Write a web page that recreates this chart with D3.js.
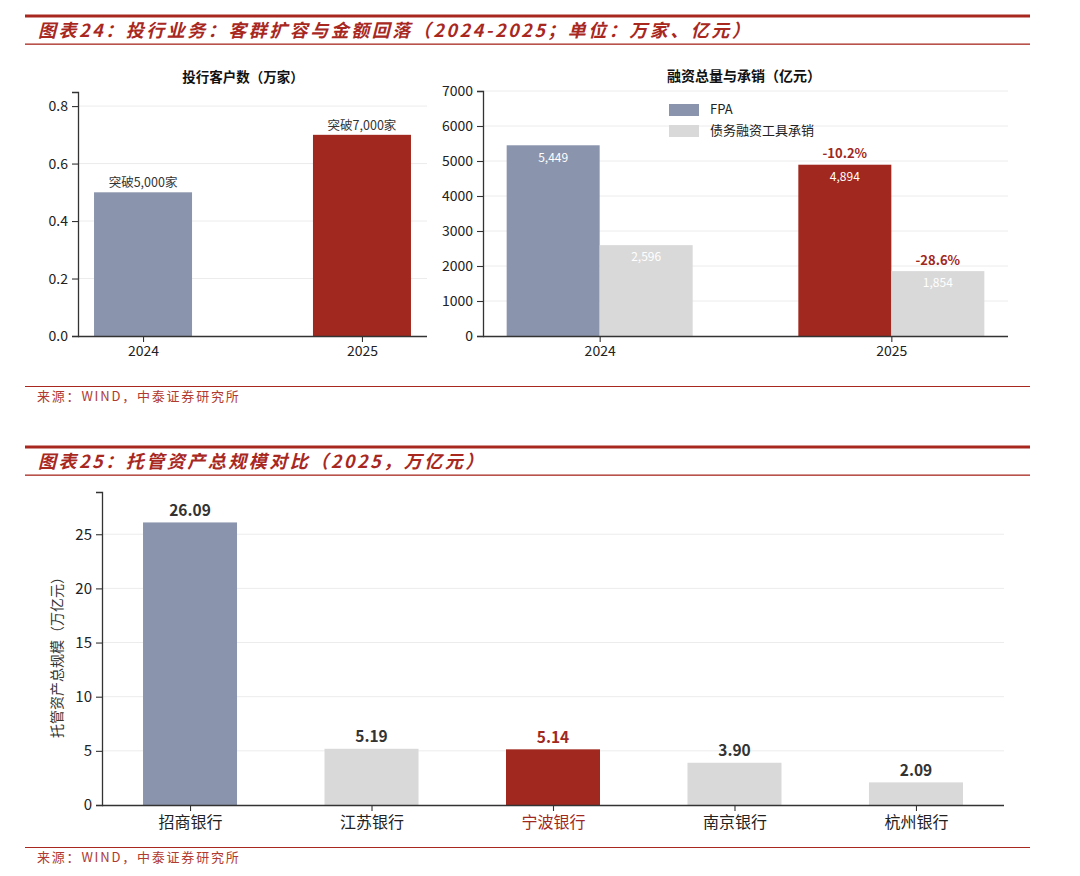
<!DOCTYPE html>
<html>
<head>
<meta charset="utf-8">
<script src="https://cdn.jsdelivr.net/npm/d3@7"></script>
<style>
  body { margin: 0; background: #fff; }
  svg text { font-family: "Noto Sans CJK SC", "Noto Sans", sans-serif; }
</style>
</head>
<body>
<div id="chart"></div>
<script>
// chart data
var clientYears = ["2024", "2025"];
var clientValues = [0.5, 0.7];
var clientLabels = ["突破5,000家", "突破7,000家"];
var clientTicks = [0, 0.2, 0.4, 0.6, 0.8];

var finYears = ["2024", "2025"];
var fpaValues = [5449, 4894];
var debtValues = [2596, 1854];
var fpaChange = ["", "-10.2%"];
var debtChange = ["", "-28.6%"];
var finTicks = [0, 1000, 2000, 3000, 4000, 5000, 6000, 7000];
var finSeries = ["FPA", "债务融资工具承销"];

var banks = ["招商银行", "江苏银行", "宁波银行", "南京银行", "杭州银行"];
var custodyValues = [26.09, 5.19, 5.14, 3.90, 2.09];
var custodyTicks = [0, 5, 10, 15, 20, 25];

var RED = "#a0281e";
var TITLE_RED = "#a8281f";
var SLATE = "#8a94ac";
var LIGHT = "#d9d9d9";
var AXIS = "#333";
var GRID = "#ececec";

var svg = d3.select("#chart").append("svg")
  .attr("width", 1080)
  .attr("height", 876);

// header bar with title
function header(y, title) {
  svg.append("rect").attr("x", 25).attr("y", y - 1.5).attr("width", 1005).attr("height", 3).attr("fill", TITLE_RED);
  svg.append("text")
    .attr("x", 38).attr("y", y + 16)
    .attr("dominant-baseline", "middle")
    .attr("fill", TITLE_RED)
    .style("font-size", "18px")
    .style("font-weight", "bold")
    .style("font-style", "italic")
    .style("letter-spacing", "2.5px")
    .text(title);
  svg.append("rect").attr("x", 25).attr("y", y + 27.5).attr("width", 1005).attr("height", 1.3).attr("fill", TITLE_RED);
}

function source(y) {
  svg.append("rect").attr("x", 25).attr("y", y).attr("width", 1005).attr("height", 1).attr("fill", TITLE_RED);
  svg.append("text")
    .attr("x", 37).attr("y", y + 11)
    .attr("dominant-baseline", "middle")
    .attr("fill", "#b03a30")
    .style("font-size", "13px")
    .style("letter-spacing", "1.8px")
    .text("来源：WIND，中泰证券研究所");
}

function styleAxis(g, size) {
  g.select(".domain").attr("stroke", AXIS).attr("stroke-width", 1.3);
  g.selectAll(".tick line").attr("stroke", AXIS).attr("stroke-width", 1.1);
  g.selectAll(".tick text").attr("fill", "#222").style("font-size", size + "px");
}

function grid(g, y, ticks, x0, x1) {
  g.selectAll(null).data(ticks.filter(function (t) { return t > 0; }))
    .enter().append("line")
    .attr("x1", x0).attr("x2", x1)
    .attr("y1", function (d) { return y(d); })
    .attr("y2", function (d) { return y(d); })
    .attr("stroke", GRID).attr("stroke-width", 1);
}

header(16, "图表24：投行业务：客群扩容与金额回落（2024-2025；单位：万家、亿元）");
source(386);
header(447, "图表25：托管资产总规模对比（2025，万亿元）");
source(847);

// ---- left chart: client count
(function () {
  var left = 78, right = 427, top = 92, bottom = 336;
  var g = svg.append("g");
  var x = d3.scalePoint().domain(clientYears).range([left, right]).padding(0.297);
  var y = d3.scaleLinear().domain([0, 0.849]).range([bottom, top]);

  grid(g, y, clientTicks, left, right);

  g.selectAll(null).data(clientValues).enter().append("rect")
    .attr("x", function (d, i) { return x(clientYears[i]) - 49; })
    .attr("width", 98)
    .attr("y", function (d) { return y(d); })
    .attr("height", function (d) { return bottom - y(d); })
    .attr("fill", function (d, i) { return i === 1 ? RED : SLATE; });

  g.selectAll(null).data(clientValues).enter().append("text")
    .attr("x", function (d, i) { return x(clientYears[i]); })
    .attr("y", function (d) { return y(d) - 5; })
    .attr("text-anchor", "middle")
    .attr("fill", "#333")
    .style("font-size", "12.5px")
    .text(function (d, i) { return clientLabels[i]; });

  var ya = g.append("g").attr("transform", "translate(" + left + ",0)")
    .call(d3.axisLeft(y).tickValues(clientTicks).tickFormat(d3.format(".1f")).tickSizeOuter(0).tickSize(6).tickPadding(4));
  styleAxis(ya, 14);
  var xa = g.append("g").attr("transform", "translate(0," + bottom + ")")
    .call(d3.axisBottom(x).tickSizeOuter(0).tickSize(6).tickPadding(4));
  styleAxis(xa, 14);
  xa.select(".domain").attr("d", "M" + left + ",0.5H" + right);

  g.append("text")
    .attr("x", 243).attr("y", 78)
    .attr("text-anchor", "middle").attr("dominant-baseline", "middle")
    .attr("fill", "#111")
    .style("font-size", "13.5px").style("font-weight", "bold")
    .text("投行客户数（万家）");
})();

// ---- right chart: financing and underwriting
(function () {
  var left = 483, right = 1008, top = 91, bottom = 336;
  var g = svg.append("g");
  var x = d3.scalePoint().domain(finYears).range([left, right]).padding(0.4);
  var y = d3.scaleLinear().domain([0, 7000]).range([bottom, top]);
  var bw = 93;

  grid(g, y, finTicks, left, right);

  var rows = finYears.map(function (yr, i) {
    return [
      { year: yr, v: fpaValues[i], chg: fpaChange[i], off: -bw, color: i === 1 ? RED : SLATE },
      { year: yr, v: debtValues[i], chg: debtChange[i], off: 0, color: LIGHT }
    ];
  });
  var bars = [].concat.apply([], rows);

  g.selectAll(null).data(bars).enter().append("rect")
    .attr("x", function (d) { return x(d.year) + d.off; })
    .attr("width", bw)
    .attr("y", function (d) { return y(d.v); })
    .attr("height", function (d) { return bottom - y(d.v); })
    .attr("fill", function (d) { return d.color; });

  g.selectAll(null).data(bars).enter().append("text")
    .attr("x", function (d) { return x(d.year) + d.off + bw / 2; })
    .attr("y", function (d) { return y(d.v) + 13; })
    .attr("text-anchor", "middle").attr("dominant-baseline", "middle")
    .attr("fill", "#fff")
    .style("font-size", "12px")
    .text(function (d) { return d3.format(",")(d.v); });

  g.selectAll(null).data(bars.filter(function (d) { return d.chg; })).enter().append("text")
    .attr("x", function (d) { return x(d.year) + d.off + bw / 2; })
    .attr("y", function (d) { return y(d.v) - 10; })
    .attr("text-anchor", "middle").attr("dominant-baseline", "middle")
    .attr("fill", RED)
    .style("font-size", "13px").style("font-weight", "bold")
    .text(function (d) { return d.chg; });

  var ya = g.append("g").attr("transform", "translate(" + left + ",0)")
    .call(d3.axisLeft(y).tickValues(finTicks).tickFormat(d3.format("d")).tickSizeOuter(0).tickSize(6).tickPadding(4));
  styleAxis(ya, 14);
  var xa = g.append("g").attr("transform", "translate(0," + bottom + ")")
    .call(d3.axisBottom(x).tickSizeOuter(0).tickSize(6).tickPadding(4));
  styleAxis(xa, 14);
  xa.select(".domain").attr("d", "M" + left + ",0.5H" + right);

  // legend
  var lg = g.append("g").attr("transform", "translate(669,104)");
  lg.selectAll(null).data(finSeries).enter().append("rect")
    .attr("x", 0).attr("y", function (d, i) { return i * 21; })
    .attr("width", 30).attr("height", 12)
    .attr("fill", function (d, i) { return i === 0 ? SLATE : LIGHT; });
  lg.selectAll(null).data(finSeries).enter().append("text")
    .attr("x", 41).attr("y", function (d, i) { return i * 21 + 6; })
    .attr("dominant-baseline", "middle")
    .attr("fill", "#222")
    .style("font-size", "13px")
    .text(function (d) { return d; });

  g.append("text")
    .attr("x", 744).attr("y", 77)
    .attr("text-anchor", "middle").attr("dominant-baseline", "middle")
    .attr("fill", "#111")
    .style("font-size", "14px").style("font-weight", "bold")
    .text("融资总量与承销（亿元）");
})();

// ---- bottom chart: custody assets
(function () {
  var left = 102, right = 1004, top = 492, bottom = 805;
  var g = svg.append("g");
  var x = d3.scalePoint().domain(banks).range([left, right]).padding(0.485);
  var y = d3.scaleLinear().domain([0, 28.9]).range([bottom, top]);
  var bw = 94;
  var colorOf = function (i) { return i === 0 ? SLATE : (i === 2 ? RED : LIGHT); };

  grid(g, y, custodyTicks, left, right);

  g.selectAll(null).data(custodyValues).enter().append("rect")
    .attr("x", function (d, i) { return x(banks[i]) - bw / 2; })
    .attr("width", bw)
    .attr("y", function (d) { return y(d); })
    .attr("height", function (d) { return bottom - y(d); })
    .attr("fill", function (d, i) { return colorOf(i); });

  g.selectAll(null).data(custodyValues).enter().append("text")
    .attr("x", function (d, i) { return x(banks[i]); })
    .attr("y", function (d) { return y(d) - 11; })
    .attr("text-anchor", "middle").attr("dominant-baseline", "middle")
    .attr("fill", function (d, i) { return i === 2 ? RED : "#333"; })
    .style("font-size", "15.5px").style("font-weight", "bold")
    .text(function (d) { return d3.format(".2f")(d); });

  var ya = g.append("g").attr("transform", "translate(" + left + ",0)")
    .call(d3.axisLeft(y).tickValues(custodyTicks).tickSizeOuter(0).tickSize(6).tickPadding(4));
  styleAxis(ya, 15);
  var xa = g.append("g").attr("transform", "translate(0," + bottom + ")")
    .call(d3.axisBottom(x).tickSizeOuter(0).tickSize(6).tickPadding(6));
  styleAxis(xa, 16);
  xa.select(".domain").attr("d", "M" + left + ",0.5H" + right);
  xa.selectAll(".tick text").attr("fill", function (d) { return d === "宁波银行" ? RED : "#222"; });

  g.append("text")
    .attr("transform", "translate(58," + 654 + ") rotate(-90)")
    .attr("text-anchor", "middle").attr("dominant-baseline", "middle")
    .attr("fill", "#333")
    .style("font-size", "14px")
    .text("托管资产总规模（万亿元）");
})();
</script>
</body>
</html>
